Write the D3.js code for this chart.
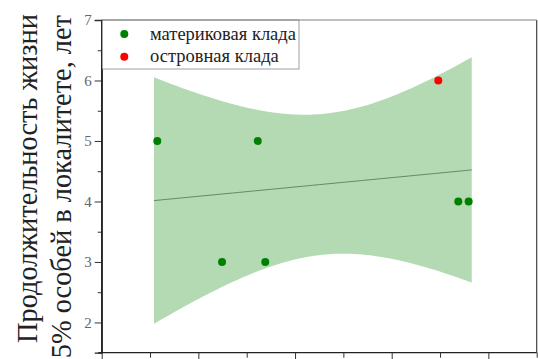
<!DOCTYPE html>
<html>
<head>
<meta charset="utf-8">
<script src="https://cdn.jsdelivr.net/npm/d3@7"></script>
<style>
  html, body { margin: 0; padding: 0; background: #fff; }
  svg { display: block; }
  svg text { font-family: "Liberation Serif", "Times New Roman", serif !important; }
</style>
</head>
<body>
<svg id="chart" width="538" height="359"></svg>
<script>
// Observations per locality: mainland clade (green) and island clade (red)
const cladeNames = ["материковая клада", "островная клада"];
const cladeColors = ["#008000", "#ff0000"];
const xMainland = [0.575, 1.245, 1.614, 1.692, 3.689, 3.796];
const yMainland = [5, 3, 5, 3, 4, 4];
const xIsland = [3.482];
const yIsland = [6];

// x-extent over which the linear fit and its 95% confidence band are drawn
const fitRange = [0.541, 3.828];
const yTicks = [2, 3, 4, 5, 6, 7];
const yMinorTicks = [1.5, 2.5, 3.5, 4.5, 5.5, 6.5];
const xTicks = [0, 1, 2, 3, 4];
const xMinorTicks = [0.5, 1.5, 2.5, 3.5, 4.5];
const yTitle = ["Продолжительность жизни", "95% особей в локалитете, лет"];

const serifFont = '"Liberation Serif"';
const svg = d3.select("#chart");
const plotLeft = 101.7, plotRight = 536.7, plotTop = 20, plotBottom = 352.7;

const x = d3.scaleLinear().domain([0, 4.5]).range([plotLeft, plotRight]);
const y = d3.scaleLinear().domain([1.5, 7]).range([plotBottom, plotTop]);

// Least-squares fit over all points and its 95% confidence band
const xs = xMainland.concat(xIsland);
const ys = yMainland.concat(yIsland);
const n = xs.length;
const mx = d3.mean(xs), my = d3.mean(ys);
const sxx = d3.sum(xs, v => (v - mx) ** 2);
const sxy = d3.sum(xs.map((v, i) => (v - mx) * (ys[i] - my)));
const slope = sxy / sxx;
const intercept = my - slope * mx;
const sse = d3.sum(xs.map((v, i) => (ys[i] - (intercept + slope * v)) ** 2));
const sdev = Math.sqrt(sse / (n - 2));
const tCrit = 2.5706; // Student t, 0.975 quantile, 5 degrees of freedom

const bandX = d3.range(0, 101).map(i => fitRange[0] + (fitRange[1] - fitRange[0]) * i / 100);
const band = bandX.map(v => {
  const fit = intercept + slope * v;
  const half = tCrit * sdev * Math.sqrt(1 / n + (v - mx) ** 2 / sxx);
  return { x: v, fit, lo: fit - half, hi: fit + half };
});

// Confidence band
svg.append("path")
  .datum(band)
  .attr("fill", "#b3dab3")
  .attr("d", d3.area().x(d => x(d.x)).y0(d => y(d.lo)).y1(d => y(d.hi)));

// Fitted line
svg.append("path")
  .datum(band)
  .attr("fill", "none")
  .attr("stroke", "#5f7a5f")
  .attr("stroke-width", 0.9)
  .attr("d", d3.line().x(d => x(d.x)).y(d => y(d.fit)));

// Frame: right edge
svg.append("line").attr("x1", plotRight).attr("x2", plotRight).attr("y1", plotTop).attr("y2", plotBottom)
  .attr("stroke", "#404040").attr("stroke-width", 1.2);

// Y axis
const yAxis = svg.append("g").attr("transform", `translate(${plotLeft},0)`)
  .call(d3.axisLeft(y).tickValues(yTicks).tickSize(7).tickPadding(3).tickFormat(d3.format("d")));
svg.append("g").attr("transform", `translate(${plotLeft},0)`)
  .call(d3.axisLeft(y).tickValues(yMinorTicks).tickSize(4).tickFormat(""))
  .select(".domain").remove();
yAxis.attr("font-family", null);
yAxis.selectAll("text").style("font-family", serifFont).style("font-size", "15px").attr("fill", "#666");
yAxis.select(".domain").attr("stroke", "#222").attr("stroke-width", 1.3);

// X axis (labels fall outside the visible area)
const xAxis = svg.append("g").attr("transform", `translate(0,${plotBottom})`)
  .call(d3.axisBottom(x).tickValues(xTicks).tickSize(8).tickFormat(""));
svg.append("g").attr("transform", `translate(0,${plotBottom})`)
  .call(d3.axisBottom(x).tickValues(xMinorTicks).tickSize(5).tickFormat(""))
  .select(".domain").remove();
xAxis.select(".domain").attr("stroke", "#222").attr("stroke-width", 1.3)
  .attr("d", `M${plotLeft - 3},0H${plotRight}`);
svg.selectAll(".tick line").attr("stroke", "#333");

// Points
const points = xs.map((v, i) => ({ x: v, y: ys[i], c: i < xMainland.length ? 0 : 1 }));
svg.append("g").selectAll("circle").data(points).join("circle")
  .attr("cx", d => x(d.x)).attr("cy", d => y(d.y)).attr("r", 4)
  .attr("fill", d => cladeColors[d.c]);

// Scale a text's font size so that it runs the given length
function fitLength(sel, base, len) {
  const w = sel.node().getComputedTextLength();
  if (w > 0) sel.style("font-size", (base * len / w).toFixed(2) + "px");
  return sel;
}

// Legend
const lg = svg.append("g");
lg.append("rect").attr("x", plotLeft).attr("y", plotTop).attr("width", 299 - plotLeft).attr("height", 69 - plotTop)
  .attr("fill", "#fff").attr("stroke", "#a0a0a0").attr("stroke-width", 1);
let legendSize = 17.5;
cladeNames.forEach((name, i) => {
  const cy = 34 + i * 22.7;
  lg.append("circle").attr("cx", 124.3).attr("cy", cy).attr("r", 4).attr("fill", cladeColors[i]);
  const t = lg.append("text").attr("x", 150).attr("y", cy + 5.5)
    .style("font-family", serifFont).style("font-size", legendSize + "px").attr("fill", "#222")
    .text(name);
  if (i === 0) {
    fitLength(t, legendSize, 146);
    legendSize = parseFloat(t.style("font-size"));
  }
});
// Frame top edge and left axis line drawn over the legend box
svg.append("line").attr("x1", plotLeft).attr("x2", plotRight).attr("y1", plotTop).attr("y2", plotTop)
  .attr("stroke", "#808080").attr("stroke-width", 1.2);
svg.append("line").attr("x1", plotLeft).attr("x2", plotLeft).attr("y1", plotTop).attr("y2", plotBottom)
  .attr("stroke", "#222").attr("stroke-width", 1.3);

// Y axis title, two lines reading bottom to top
const t1 = svg.append("text").attr("transform", "translate(37,343) rotate(-90)")
  .attr("text-anchor", "start").style("font-family", serifFont).style("font-size", "28px").attr("fill", "#222")
  .text(yTitle[0]);
fitLength(t1, 28, 329);
const titleSize = t1.style("font-size");
svg.append("text").attr("transform", "translate(71,15) rotate(-90)")
  .attr("text-anchor", "end").style("font-family", serifFont).style("font-size", titleSize).attr("fill", "#222")
  .text(yTitle[1]);
</script>
</body>
</html>
